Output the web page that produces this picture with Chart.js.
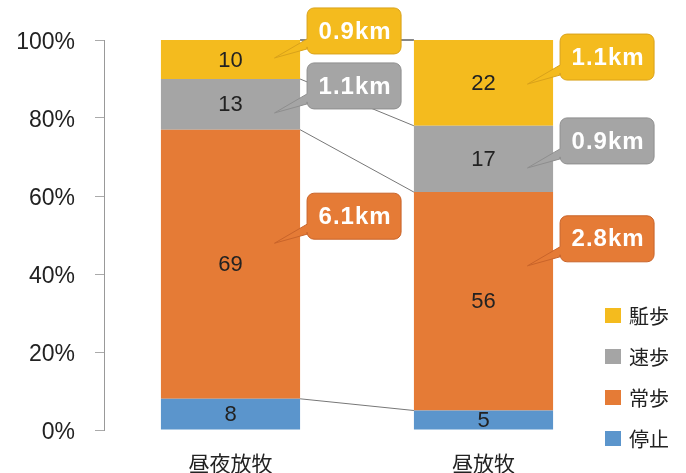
<!DOCTYPE html>
<html>
<head>
<meta charset="utf-8">
<script src="https://cdn.jsdelivr.net/npm/chart.js@4/dist/chart.umd.min.js"></script>
<style>
  html, body { margin: 0; padding: 0; background: #fff; }
  #wrap { width: 686px; height: 473px; }
</style>
</head>
<body>
<div id="wrap"><canvas id="gait-chart"></canvas></div>
<script>
var categories = ['昼夜放牧', '昼放牧'];
var seriesNames = ['停止', '常歩', '速歩', '駈歩'];

// share of time (%) per gait
var stopVals = [8, 5];
var walkVals = [69, 56];
var trotVals = [13, 17];
var canterVals = [10, 22];

// distance per gait (km)
var walkKm = [6.1, 2.8];
var trotKm = [1.1, 0.9];
var canterKm = [0.9, 1.1];

var yTicks = [0, 20, 40, 60, 80, 100];

var colors = ['#5B95CC', '#E57B36', '#A5A5A5', '#F4BB1E'];
var edgeColors = ['#4A7FB0', '#C9642A', '#8E8E8E', '#D9A21A'];

var FONT = '"Liberation Sans", Helvetica, Arial, sans-serif';
var CJK = '"Noto Sans CJK JP", "Noto Sans", sans-serif';

// where each balloon points, in axis units, per dataset index
var balloonTip = {
  1: [47.9, 42.1],
  2: [81.3, 67.2],
  3: [95.4, 88.7]
};
var balloonKm = { 1: walkKm, 2: trotKm, 3: canterKm };

var seriesVals = [stopVals, walkVals, trotVals, canterVals];

var segmentLabels = {
  id: 'segmentLabels',
  afterDatasetsDraw: function(chart) {
    var ctx = chart.ctx;
    ctx.save();
    ctx.font = '22px ' + FONT;
    ctx.fillStyle = '#222';
    ctx.textAlign = 'center';
    ctx.textBaseline = 'middle';
    chart.data.datasets.forEach(function(ds, i) {
      chart.getDatasetMeta(i).data.forEach(function(bar, j) {
        ctx.fillText(String(ds.data[j]), bar.x, (bar.y + bar.base) / 2 + 1);
      });
    });
    ctx.restore();
  }
};

var seriesLines = {
  id: 'seriesLines',
  beforeDatasetsDraw: function(chart) {
    var ctx = chart.ctx;
    ctx.save();
    ctx.lineWidth = 1;
    chart.data.datasets.forEach(function(ds, i) {
      var bars = chart.getDatasetMeta(i).data;
      var a = bars[0], b = bars[1];
      ctx.strokeStyle = i === chart.data.datasets.length - 1 ? '#111' : '#777';
      ctx.beginPath();
      ctx.moveTo(a.x + a.width / 2, a.y);
      ctx.lineTo(b.x - b.width / 2, b.y);
      ctx.stroke();
    });
    ctx.restore();
  }
};

function balloonPath(ctx, x, y, w, h, r, tx, ty) {
  ctx.beginPath();
  ctx.moveTo(x + r, y);
  ctx.lineTo(x + w - r, y);
  ctx.arcTo(x + w, y, x + w, y + r, r);
  ctx.lineTo(x + w, y + h - r);
  ctx.arcTo(x + w, y + h, x + w - r, y + h, r);
  ctx.lineTo(x + r, y + h);
  ctx.arcTo(x, y + h, x, y + h - r, r);
  ctx.lineTo(x, y + h - 5);
  ctx.lineTo(tx, ty);
  ctx.lineTo(x, y + h - 15);
  ctx.lineTo(x, y + r);
  ctx.arcTo(x, y, x + r, y, r);
  ctx.closePath();
}

var balloons = {
  id: 'balloons',
  afterDraw: function(chart) {
    var ctx = chart.ctx;
    var yScale = chart.scales.y;
    ctx.save();
    Object.keys(balloonTip).forEach(function(key) {
      var i = Number(key);
      chart.getDatasetMeta(i).data.forEach(function(bar, j) {
        var tx = bar.x + 44;
        var ty = yScale.getPixelForValue(balloonTip[i][j]);
        var bx = bar.x + bar.width / 2 + 7;
        var by = ty - 50;
        balloonPath(ctx, bx, by, 94, 46, 7, tx, ty);
        ctx.fillStyle = colors[i];
        ctx.fill();
        ctx.strokeStyle = edgeColors[i];
        ctx.lineWidth = 1;
        ctx.stroke();
        ctx.fillStyle = '#fff';
        ctx.font = 'bold 24px ' + FONT;
        ctx.letterSpacing = '1px';
        ctx.textAlign = 'center';
        ctx.textBaseline = 'middle';
        ctx.fillText(balloonKm[i][j].toFixed(1) + 'km', bx + 48, by + 24);
      });
    });
    ctx.restore();
  }
};

var sideLegend = {
  id: 'sideLegend',
  afterDraw: function(chart) {
    var ctx = chart.ctx;
    ctx.save();
    ctx.font = '20px ' + CJK;
    ctx.textAlign = 'left';
    ctx.textBaseline = 'middle';
    var n = chart.data.datasets.length;
    for (var k = 0; k < n; k++) {
      var ds = chart.data.datasets[n - 1 - k];
      var cy = 316 + k * 41;
      ctx.fillStyle = ds.backgroundColor;
      ctx.fillRect(605, cy - 8, 16, 15);
      ctx.fillStyle = '#222';
      ctx.fillText(ds.label, 629, cy);
    }
    ctx.restore();
  }
};

var config = {
  type: 'bar',
  data: {
    labels: categories,
    datasets: seriesNames.map(function(name, i) {
      return {
        label: name,
        data: seriesVals[i],
        backgroundColor: colors[i],
        borderWidth: 0,
        barPercentage: 0.55,
        categoryPercentage: 1
      };
    })
  },
  options: {
    responsive: true,
    maintainAspectRatio: false,
    animation: false,
    layout: {
      padding: { top: 40, right: 76, bottom: 0, left: 0 }
    },
    plugins: {
      legend: { display: false },
      tooltip: { enabled: false }
    },
    scales: {
      x: {
        stacked: true,
        grid: { display: false, drawTicks: false },
        border: { display: false },
        ticks: {
          padding: 20,
          color: '#222',
          font: { family: CJK, size: 21 }
        },
        afterFit: function(scale) { scale.height = 43; }
      },
      y: {
        stacked: true,
        min: 0,
        max: 100,
        afterBuildTicks: function(scale) {
          scale.ticks = yTicks.map(function(v) { return { value: v }; });
        },
        grid: {
          drawOnChartArea: false,
          drawTicks: true,
          tickLength: 9,
          color: '#aaa'
        },
        border: { display: true, color: '#999', width: 1 },
        ticks: {
          padding: 20,
          labelOffset: 3,
          color: '#222',
          font: { family: FONT, size: 23 },
          callback: function(v) { return v + '%'; }
        },
        afterFit: function(scale) { scale.width = 104; }
      }
    }
  },
  plugins: [seriesLines, segmentLabels, balloons, sideLegend]
};

var ctx = document.getElementById('gait-chart').getContext('2d');
var gaitChart = new Chart(ctx, config);
</script>
</body>
</html>
